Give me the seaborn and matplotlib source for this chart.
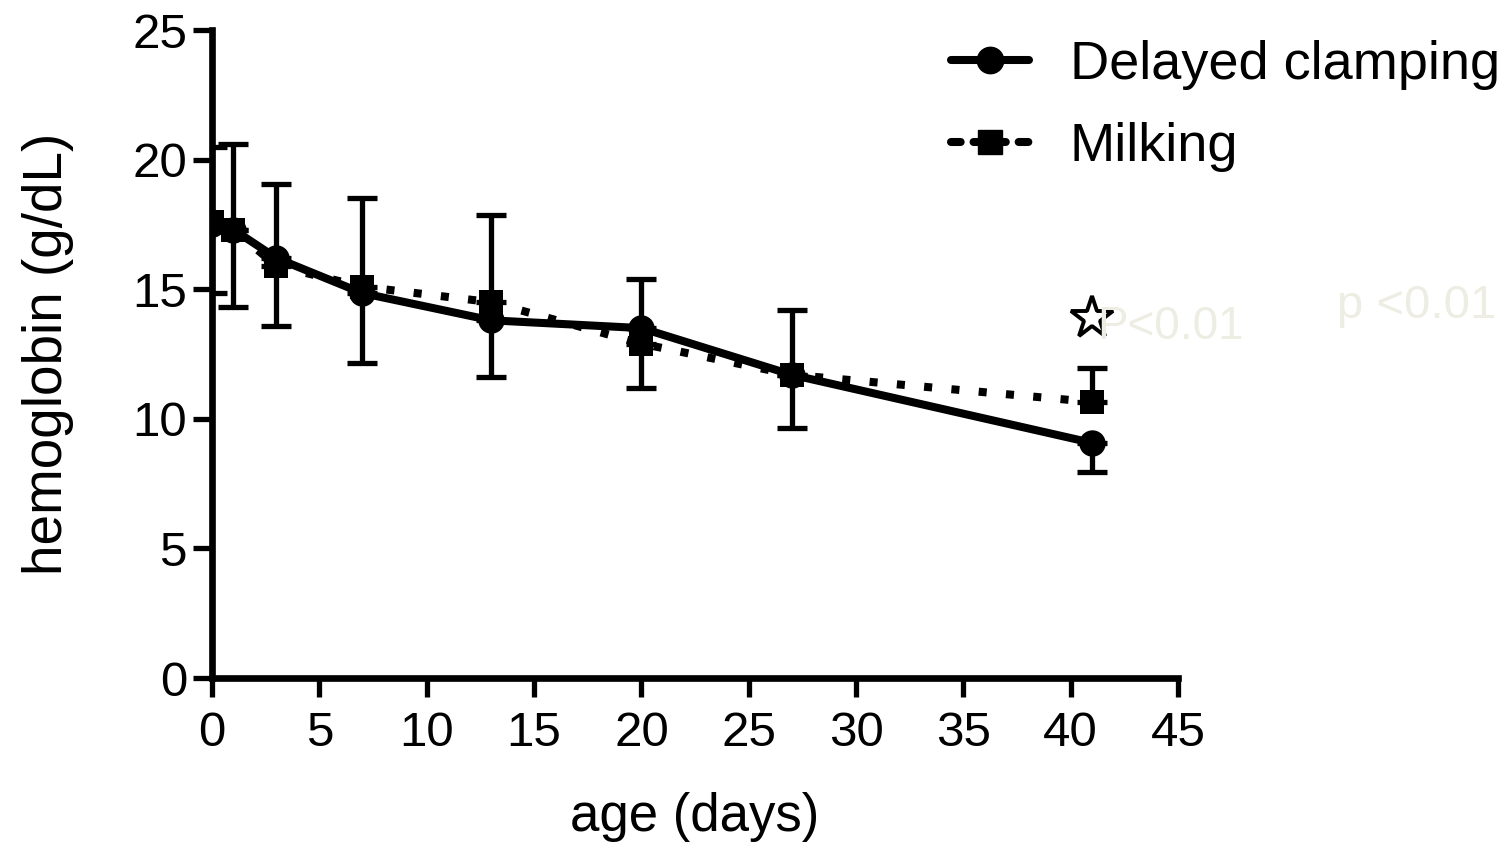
import matplotlib
matplotlib.use("Agg")
import matplotlib.pyplot as plt
import seaborn as sns
import pandas as pd
from matplotlib.lines import Line2D

# datos
days = [0, 1, 3, 7, 13, 20, 27, 41]
delayed = [17.5, 17.3, 16.2, 14.85, 13.8, 13.5, 11.7, 9.07]
milking = [17.6, 17.3, 15.9, 15.1, 14.5, 12.9, 11.7, 10.65]
# extremos de las barras de error
delayed_low = [14.85, 14.3, 13.6, 12.15, 11.6, 11.2, 9.65, 7.95]
milking_high = [20.5, 20.6, 19.05, 18.5, 17.85, 15.4, 14.2, 11.95]
star_day = 41
star_value = 13.9
x_ticks = [0, 5, 10, 15, 20, 25, 30, 35, 40, 45]
y_ticks = [0, 5, 10, 15, 20, 25]

sns.set_theme(style="white")
plt.rcParams['font.family'] = ['Liberation Sans', 'DejaVu Sans']
plt.rcParams['text.color'] = 'black'
plt.rcParams['axes.labelcolor'] = 'black'
plt.rcParams['xtick.color'] = 'black'
plt.rcParams['ytick.color'] = 'black'

df = pd.DataFrame({"day": days, "delayed": delayed, "milking": milking})

fig = plt.figure(figsize=(15.09, 8.43), dpi=100)
ax = fig.add_axes([0.1405, 0.1957, 0.6402, 0.7687])

lw = 5.8
sns.lineplot(data=df, x="day", y="milking", ax=ax, color="black", lw=lw,
             marker="s", markersize=17, markeredgewidth=0,
             linestyle=(0, (1.0, 2.4)))
sns.lineplot(data=df, x="day", y="delayed", ax=ax, color="black", lw=lw,
             marker="o", markersize=19, markeredgewidth=0)

# barras de error (milking hacia arriba, delayed hacia abajo)
up = [h - m for h, m in zip(milking_high, milking)]
down = [d - l for d, l in zip(delayed, delayed_low)]
ax.errorbar(days, milking, yerr=[[0] * len(days), up], fmt="none",
            ecolor="black", elinewidth=3.8, capsize=11, capthick=3.8)
ax.errorbar(days, delayed, yerr=[down, [0] * len(days)], fmt="none",
            ecolor="black", elinewidth=3.8, capsize=11, capthick=3.8)

ax.plot([star_day], [star_value], marker="*", markersize=32,
        markerfacecolor="white", markeredgecolor="black", markeredgewidth=2.8,
        linestyle="none", clip_on=False)
ax.text(star_day + 0.25, star_value - 0.35, "P<0.01", fontsize=33,
        color="#eeede3", va="center", ha="left", clip_on=False)
ax.text(52.4, 14.35, "p <0.01", fontsize=34, color="#eeede3",
        va="center", ha="left", clip_on=False)

ax.set_xlim(0, 45)
ax.set_ylim(0, 25)
ax.set_xticks(x_ticks)
ax.set_yticks(y_ticks)
ax.tick_params(axis="both", which="major", labelsize=35.5, length=14, width=3.8,
               direction="out", bottom=True, left=True)
ax.tick_params(axis="x", pad=10)
ax.tick_params(axis="y", pad=4)
for side in ["top", "right"]:
    ax.spines[side].set_visible(False)
for side in ["left", "bottom"]:
    ax.spines[side].set_linewidth(4.8)
    ax.spines[side].set_color("black")
ax.set_xlabel("age (days)", fontsize=38, labelpad=26)
ax.set_ylabel("hemoglobin (g/dL)", fontsize=39.5, labelpad=42)

handles = [
    Line2D([], [], color="black", lw=lw, marker="o", markersize=19,
           solid_capstyle="round"),
    Line2D([], [], color="black", lw=lw, marker="s", markersize=17,
           linestyle=(0, (1.2, 1.6)), dash_capstyle="round"),
]
fig.legend(handles, ["Delayed clamping", "Milking"], loc="upper left",
           bbox_to_anchor=(0.630, 0.953), frameon=False, fontsize=39,
           handlelength=1.45, handletextpad=0.75, labelspacing=0.6,
           borderpad=0, borderaxespad=0)

fig.savefig("out.png", dpi=100)
